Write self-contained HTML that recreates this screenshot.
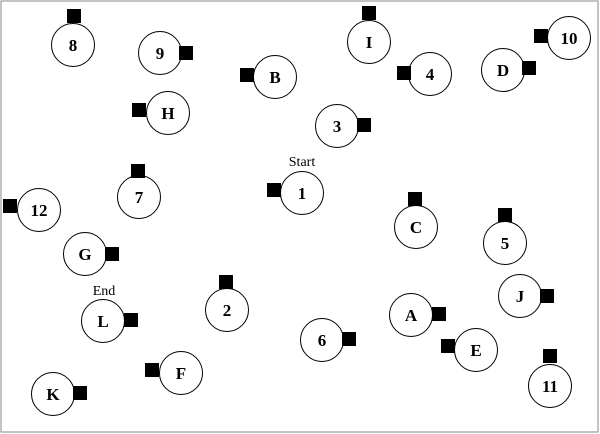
<!DOCTYPE html>
<html><head><meta charset="utf-8"><style>
html,body{margin:0;padding:0;background:#fff;}
svg{display:block;}
text{font-family:"Liberation Serif",serif;}
</style></head><body>
<svg id="c" width="600" height="434">
<rect x="1" y="1" width="597" height="431" fill="#fff" stroke="#888" stroke-width="1"/>
<text x="302" y="166" font-size="14" text-anchor="middle">Start</text>
<text x="104" y="295" font-size="14" text-anchor="middle">End</text>
</svg>
<script>
const labels = ["8","9","B","I","4","D","10","H","3","1","7","12","C","5","G","L","2","6","A","J","E","11","F","K"];
const cx = [73,160,275,369,430,503,569,168,337,302,139,39,416,505,85,103,227,322,411,520,476,550,181,53];
const cy = [45,53,77,42,74,70,38,113,126,193,197,210,227,243,254,321,310,340,315,296,350,386,373,394];
const sqx = [74,186,247,369,404,529,541,139,364,274,138,10,415,505,112,131,226,349,439,547,448,550,152,80];
const sqy = [16,53,75,13,73,68,36,110,125,190,171,206,199,215,254,320,282,339,314,296,346,356,370,393];
const svg = document.getElementById('c');
const NS = 'http://www.w3.org/2000/svg';
for (let i = 0; i < labels.length; i++) {
  const g = document.createElementNS(NS, 'g');
  
  
  const c = document.createElementNS(NS, 'circle');
  c.setAttribute('cx', cx[i]); c.setAttribute('cy', cy[i]); c.setAttribute('r', 21.5);
  c.setAttribute('fill', '#fff'); c.setAttribute('stroke', '#000'); c.setAttribute('stroke-width', 1);
  
  
  g.appendChild(c);
  const t = document.createElementNS(NS, 'text');
  t.setAttribute('x', cx[i]); t.setAttribute('y', cy[i] + 6);
  t.setAttribute('text-anchor', 'middle'); t.setAttribute('font-size', '17');
  t.setAttribute('font-weight', 'bold');
  t.textContent = labels[i];
  
  
  g.appendChild(t);
  const s = document.createElementNS(NS, 'rect');
  s.setAttribute('x', sqx[i] - 7); s.setAttribute('y', sqy[i] - 7);
  s.setAttribute('width', 14); s.setAttribute('height', 14); s.setAttribute('fill', '#000');
  
  
  g.appendChild(s);
  svg.appendChild(g);
}
</script>
</body></html>
